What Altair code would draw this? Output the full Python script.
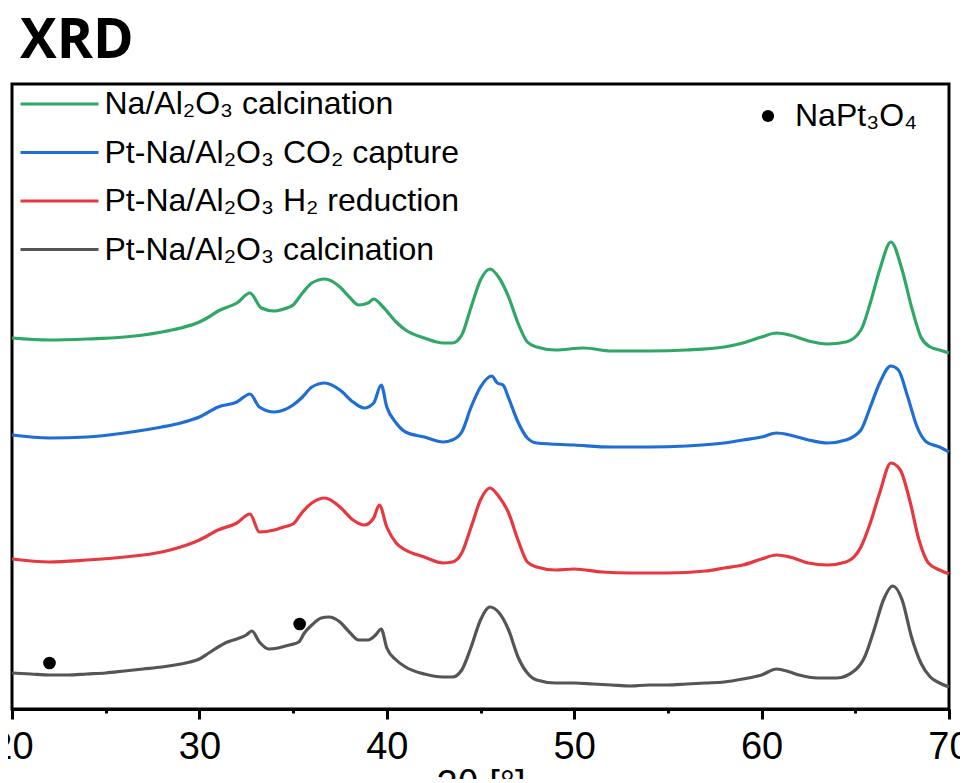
import altair as alt
import pandas as pd

# ---- data (2θ in degrees, intensity in a.u., curves already offset) ----
series_names = [
    "Na/Al₂O₃ calcination",
    "Pt-Na/Al₂O₃ CO₂ capture",
    "Pt-Na/Al₂O₃ H₂ reduction",
    "Pt-Na/Al₂O₃ calcination",
]
series_colors = ["#2fa865", "#1f6ed6", "#e8383f", "#555555"]

green_x = [20, 22, 24, 26, 27, 28, 29, 30, 30.5, 31, 32, 32.7, 33.3, 34, 34.5, 35, 35.5, 36.0,
           36.7, 37.5, 38.0, 38.5, 39.0, 39.3, 39.8, 40.5, 41, 42, 43, 43.5, 44, 44.5, 45.0, 45.5,
           46.0, 46.5, 47.0, 47.5, 48, 49, 50.5, 52, 54, 56, 58, 59, 60, 60.8, 61.5, 62.5, 63.5,
           64.5, 65.3, 65.8, 66.3, 66.9, 67.5, 68, 68.5, 69, 69.5, 70]
green_y = [370, 368, 369, 371, 373, 376, 380, 386, 391, 397, 405, 415, 400, 397, 399, 403, 415, 425,
           429, 421, 411, 403, 405, 409, 401, 386, 378, 370, 365, 365, 373, 401, 428, 439,
           430, 411, 385, 366, 361, 358, 360, 357, 357, 358, 361, 365, 371, 375, 373, 367, 364,
           366, 378, 405, 438, 466, 438, 401, 371, 361, 358, 355]

blue_x = [20, 22, 24, 26, 28, 29, 30, 31, 32, 32.7, 33.2, 34, 34.5, 35, 35.5, 36, 36.7, 37.5, 38.2,
          38.8, 39.3, 39.7, 40.0, 40.5, 41, 42, 43, 43.5, 44, 44.5, 45.0, 45.6, 45.9, 46.2, 46.5,
          47.0, 47.5, 48, 50, 52, 54, 56, 58, 59, 60, 60.8, 61.5, 62.5, 63.5, 64.5, 65.3, 65.8,
          66.3, 66.9, 67.3, 67.8, 68.3, 68.8, 69.5, 70]
blue_y = [273, 270, 271, 275, 281, 285, 291, 301, 306, 314, 301, 296, 298, 303, 311, 321, 325, 318, 306,
          300, 305, 323, 301, 285, 276, 271, 266, 268, 276, 301, 321, 332, 325, 323, 310,
          286, 270, 265, 263, 261, 261, 262, 265, 268, 271, 275, 273, 268, 265, 268, 278, 301,
          325, 342, 338, 311, 281, 266, 261, 256]

red_x = [20, 22, 24, 26, 28, 29, 30, 31, 32, 32.7, 33.2, 34, 34.5, 35, 35.5, 36.0, 36.7, 37.5, 38.2,
         38.8, 39.3, 39.6, 40.0, 40.5, 41, 42, 43, 43.5, 44, 44.5, 45.0, 45.5, 46.0, 46.5, 47.0,
         47.5, 48, 49, 50, 51.5, 53, 55, 57, 58, 59, 60, 60.8, 61.5, 62.5, 63.5, 64.5, 65.3, 65.8,
         66.3, 66.9, 67.4, 67.9, 68.4, 68.9, 69.5, 70]
red_y = [149, 146, 148, 151, 156, 161, 168, 178, 185, 194, 176, 178, 181, 184, 196, 205, 210, 201, 188,
         183, 190, 203, 181, 165, 158, 151, 145, 146, 155, 181, 208, 220, 211, 195, 168,
         146, 141, 138, 139, 136, 135, 135, 137, 140, 143, 149, 153, 151, 145, 143, 146, 161, 185,
         215, 245, 238, 208, 168, 145, 138, 134]

gray_x = [20, 21, 22, 23, 24, 25, 26, 27, 28, 29, 29.5, 30, 30.5, 31, 31.5, 32, 32.5, 32.8, 33.2,
          33.7, 34.2, 34.8, 35.3, 35.6, 36.0, 36.5, 36.9, 37.5, 38.0, 38.5, 39.0, 39.4, 39.7, 40.0,
          40.5, 41, 42, 43, 43.5, 44.0, 44.5, 45.0, 45.5, 46.0, 46.5, 47, 47.5, 48, 49, 50, 51,
          52, 53, 54, 55, 56, 57, 58, 59, 60, 60.8, 61.5, 62, 63, 64, 65, 65.5, 66, 66.5, 67.0,
          67.5, 68, 68.5, 69, 69.5, 70]
gray_y = [35, 34, 33, 33, 34, 35, 37, 39, 41, 44, 46, 49, 55, 61, 66, 69, 73, 77, 66,
          59, 60, 63, 66, 75, 83, 90, 91, 86, 76, 68, 68, 73, 79, 60,
          48, 41, 34, 31, 31, 38, 61, 88, 101, 95, 78, 51, 35, 28, 25, 25, 24,
          23, 22, 23, 23, 24, 25, 26, 29, 33, 39, 36, 33, 30, 30, 38, 51, 78, 108, 122,
          108, 71, 45, 31, 25, 21]

# NaPt3O4 reflections marked on the bottom curve
marker_label = "NaPt₃O₄"
marker_x = [22.0, 35.35]
marker_y = [45, 84]

x_ticks = [20, 25, 30, 35, 40, 45, 50, 55, 60, 65, 70]

# ---- build tables ----
rows = []
for name, xs, ys in zip(series_names, [green_x, blue_x, red_x, gray_x],
                        [green_y, blue_y, red_y, gray_y]):
    for a, b in zip(xs, ys):
        rows.append({"series": name, "two_theta": a, "intensity": b})
curves = pd.DataFrame(rows)
markers = pd.DataFrame({"two_theta": marker_x, "intensity": marker_y,
                        "phase": [marker_label] * len(marker_x)})

FONT = "Liberation Sans"

x_enc = alt.X(
    "two_theta:Q",
    scale=alt.Scale(domain=[20, 70], nice=False, zero=False),
    axis=alt.Axis(
        title="2θ [°]",
        values=x_ticks,
        labelExpr="datum.value % 10 === 0 ? datum.label : ''",
        tickSize={"condition": {"test": "datum.value % 10 === 0", "value": 10}, "value": 4},
        tickWidth=3,
        tickColor="black",
        domainColor="black",
        domainWidth=3,
        grid=False,
        labelFont=FONT,
        labelFontSize=38,
        labelColor="black",
        labelPadding=9,
        labelFlush=False,
        labelOverlap=False,
        titleFont=FONT,
        titleFontSize=38,
        titleFontWeight="normal",
        titleColor="black",
        titlePadding=0,
    ),
)
y_enc = alt.Y("intensity:Q", scale=alt.Scale(domain=[-1, 624], nice=False, zero=False), axis=None)

lines = alt.Chart(curves).mark_line(strokeWidth=3.2, interpolate="monotone").encode(
    x=x_enc,
    y=y_enc,
    color=alt.Color(
        "series:N",
        scale=alt.Scale(domain=series_names, range=series_colors),
        legend=alt.Legend(
            title=None,
            orient="none",
            legendX=31.5,
            legendY=4,
            padding=0,
            symbolType="M-3,0H3",
            symbolSize=676,
            symbolStrokeWidth=3,
            labelFont=FONT,
            labelFontSize=32,
            labelColor="black",
            labelOffset=29,
            labelLimit=600,
            rowPadding=16.5,
        ),
    ),
    order=alt.Order("two_theta:Q"),
)

points = alt.Chart(markers).mark_point(filled=True, color="black", opacity=1, size=160).encode(
    x="two_theta:Q",
    y="intensity:Q",
    shape=alt.Shape(
        "phase:N",
        scale=alt.Scale(domain=[marker_label], range=["circle"]),
        legend=alt.Legend(
            title=None,
            orient="none",
            legendX=740,
            legendY=16,
            padding=0,
            symbolSize=150,
            symbolFillColor="black",
            symbolStrokeColor="black",
            symbolOpacity=1,
            labelFont=FONT,
            labelFontSize=32,
            labelColor="black",
            labelOffset=11,
        ),
    ),
)

chart = (
    alt.layer(lines, points)
    .properties(
        width=937,
        height=625,
        title=alt.TitleParams(
            "XRD",
            anchor="start",
            frame="group",
            font="Open Sans",
            fontSize=55,
            fontWeight="bold",
            color="black",
            dx=8,
            offset=14,
        ),
        autosize=alt.AutoSizeParams(type="none"),
        padding={"left": 4, "top": 76, "right": 11, "bottom": 70},
    )
    .configure(background="white")
    .configure_view(stroke="black", strokeWidth=3)
)

chart.save("out.html", embed_options={"renderer": "svg", "actions": False})
